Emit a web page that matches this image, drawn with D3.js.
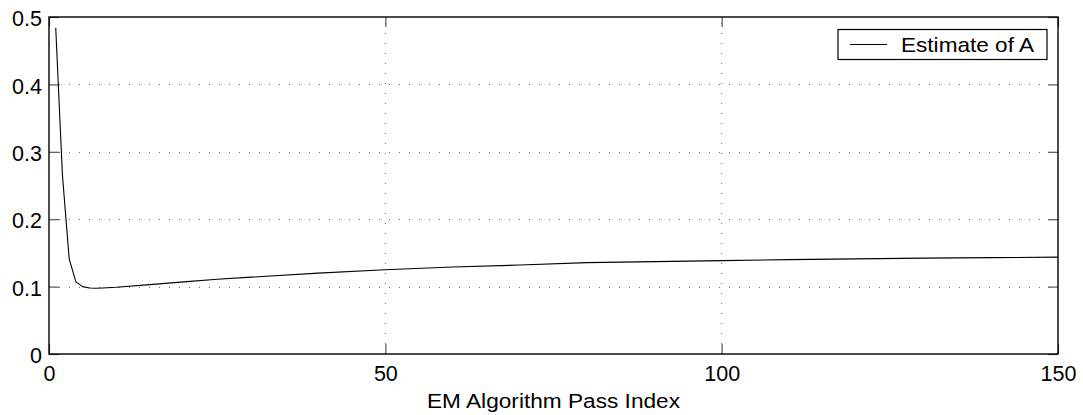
<!DOCTYPE html>
<html>
<head>
<meta charset="utf-8">
<script src="https://cdn.jsdelivr.net/npm/d3@7"></script>
<style>
  html, body { margin: 0; padding: 0; background: #fff; }
  svg { display: block; font-family: "Liberation Sans", Arial, sans-serif; }
</style>
</head>
<body>
<svg id="chart" width="1083" height="415"></svg>
<script>
// Data
const passIndex = [1, 2, 3, 4, 5, 6, 7, 8, 10, 15, 20, 25, 30, 40, 50, 60, 70, 80, 90, 100, 110, 120, 130, 140, 150];
const estimateA = [0.484, 0.265, 0.141, 0.107, 0.100, 0.098, 0.0975, 0.098, 0.099, 0.103, 0.107, 0.111, 0.114, 0.120, 0.125, 0.129, 0.132, 0.1355, 0.137, 0.1385, 0.1400, 0.1412, 0.1422, 0.1430, 0.1437];
const xTicks = [0, 50, 100, 150];
const yTicks = [0, 0.1, 0.2, 0.3, 0.4, 0.5];
const xLabel = "EM Algorithm Pass Index";
const seriesName = "Estimate of A";

const svg = d3.select("#chart");
const L = 49, R = 1058, T = 17, B = 354;

const x = d3.scaleLinear().domain([0, 150]).range([L, R]);
const y = d3.scaleLinear().domain([0, 0.5]).range([B, T]);

const fmtY = d => d === 0 ? "0" : d3.format(".1f")(d);

// Grid (dotted)
const grid = svg.append("g");
grid.selectAll("line.gx").data(xTicks.filter(d => d > 0 && d < 150)).join("line")
  .attr("x1", d => x(d)).attr("x2", d => x(d))
  .attr("y1", B).attr("y2", T)
  .attr("stroke", "#666").attr("stroke-width", 1)
  .attr("stroke-dasharray", "1,9");
grid.selectAll("line.gy").data(yTicks.filter(d => d > 0 && d < 0.5)).join("line")
  .attr("x1", L).attr("x2", R)
  .attr("y1", d => Math.round(y(d)) + 0.5).attr("y2", d => Math.round(y(d)) + 0.5)
  .attr("stroke", "#666").attr("stroke-width", 1)
  .attr("stroke-dasharray", "1,9");

// Axes via d3 axes, inward ticks
const tickLen = 10;
const axBottom = svg.append("g").attr("transform", `translate(0,${B})`)
  .call(d3.axisBottom(x).tickValues(xTicks).tickSize(-tickLen).tickPadding(12).tickFormat(d3.format("d")));
const axTop = svg.append("g").attr("transform", `translate(0,${T})`)
  .call(d3.axisTop(x).tickValues(xTicks).tickSize(-tickLen).tickFormat(""));
const axLeft = svg.append("g").attr("transform", `translate(${L},0)`)
  .call(d3.axisLeft(y).tickValues(yTicks).tickSize(-tickLen).tickPadding(7).tickFormat(fmtY));
const axRight = svg.append("g").attr("transform", `translate(${R},0)`)
  .call(d3.axisRight(y).tickValues(yTicks).tickSize(-tickLen).tickFormat(""));

[axBottom, axTop, axLeft, axRight].forEach(g => {
  g.select(".domain").remove();
  g.selectAll(".tick line").attr("stroke", "#555").attr("stroke-width", 1.2);
  g.selectAll(".tick text").attr("fill", "#000").attr("font-size", 21.5)
    .attr("font-family", "'Liberation Sans', Arial, sans-serif");
});
axBottom.selectAll(".tick text").attr("dy", "0.71em");
axLeft.selectAll(".tick text").attr("dy", "0.4em");

// Box
svg.append("rect").attr("x", L).attr("y", T).attr("width", R - L).attr("height", B - T)
  .attr("fill", "none").attr("stroke", "#000").attr("stroke-width", 1.4);

// Data line
const line = d3.line().x((d, i) => x(passIndex[i])).y(d => y(d));
svg.append("path").datum(estimateA)
  .attr("d", line).attr("fill", "none").attr("stroke", "#000").attr("stroke-width", 1.1)
  .attr("stroke-linejoin", "round");

// X label
svg.append("text").attr("x", 553.5).attr("y", 408)
  .attr("text-anchor", "middle").attr("font-size", 20)
  .attr("textLength", 253).attr("lengthAdjust", "spacingAndGlyphs")
  .text(xLabel);

// Legend
const lg = svg.append("g");
lg.append("rect").attr("x", 838).attr("y", 29.5).attr("width", 209).attr("height", 30)
  .attr("fill", "#fff").attr("stroke", "#000").attr("stroke-width", 1.2);
lg.append("line").attr("x1", 850).attr("x2", 887).attr("y1", 44.5).attr("y2", 44.5)
  .attr("stroke", "#000").attr("stroke-width", 1.1);
lg.append("text").attr("x", 901).attr("y", 52.3).attr("font-size", 21)
  .attr("textLength", 133).attr("lengthAdjust", "spacingAndGlyphs")
  .text(seriesName);
</script>
</body>
</html>
